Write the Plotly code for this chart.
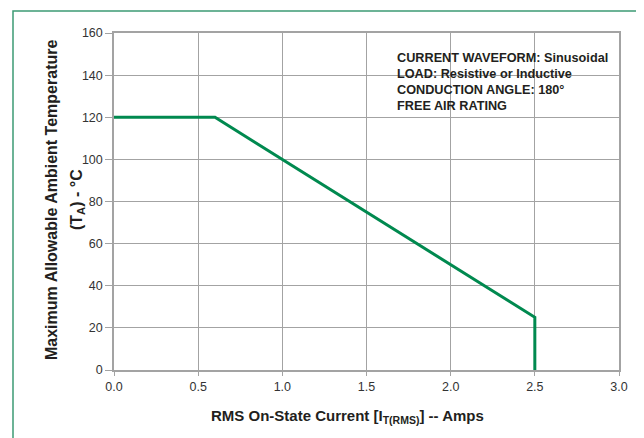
import plotly.graph_objects as go

# Data
current_amps = [0.0, 0.6, 2.5, 2.5]
ambient_temp_c = [120, 120, 25, 0]
x_ticks = [0.0, 0.5, 1.0, 1.5, 2.0, 2.5, 3.0]
y_ticks = [0, 20, 40, 60, 80, 100, 120, 140, 160]
note_lines = [
    "CURRENT WAVEFORM: Sinusoidal",
    "LOAD: Resistive or Inductive",
    "CONDUCTION ANGLE: 180°",
    "FREE AIR RATING",
]

W, H = 644, 438
L, R, T, B = 106, 33, 25, 76
PW, PH = W - L - R, H - T - B


def px(xp):
    return (xp - L) / PW


def py(yp):
    return (T + PH - yp) / PH


FONT = "Liberation Sans, Arial, Helvetica, sans-serif"
GREEN = "#00894f"
GRID = "#a3a3a3"
TXT = "#231f20"

fig = go.Figure()
fig.add_trace(go.Scatter(
    x=current_amps, y=ambient_temp_c, mode="lines",
    line=dict(color=GREEN, width=3), showlegend=False, hoverinfo="skip",
))

axis_common = dict(
    showgrid=True, gridcolor=GRID, gridwidth=1,
    showline=True, linecolor=GRID, linewidth=1.5, mirror=True,
    ticks="outside", tickcolor=GRID, tickwidth=1,
    zeroline=False, tickfont=dict(family=FONT, size=12.5, color="#333333"),
)
fig.update_xaxes(range=[0, 3], tickvals=x_ticks, ticktext=[f"{v:.1f}" for v in x_ticks],
                 ticklen=4, **axis_common)
fig.update_yaxes(range=[0, 160], tickvals=y_ticks, ticklen=7, **axis_common)

shapes = [
    # white box behind the note
    dict(type="rect", xref="paper", yref="paper", x0=px(382), x1=1.0, y0=py(108), y1=py(42),
         fillcolor="white", line=dict(width=0), layer="below"),
    # green outer frame
    dict(type="rect", xref="paper", yref="paper", x0=px(5), x1=px(642), y0=py(437), y1=py(3),
         line=dict(color="#3d9b74", width=1.5), fillcolor="rgba(0,0,0,0)"),
]

annotations = []
for i, line in enumerate(note_lines):
    annotations.append(dict(
        text=line, xref="paper", yref="paper", x=px(387), y=py(49.5 + 16.1 * i),
        xanchor="left", yanchor="middle", showarrow=False,
        font=dict(family=FONT, size=12.7, color=TXT, weight="bold"),
    ))

annotations.append(dict(
    text="Maximum Allowable Ambient Temperature", textangle=-90,
    xref="paper", yref="paper", x=px(43), y=py(192), xanchor="center", yanchor="middle",
    showarrow=False, font=dict(family=FONT, size=16, color=TXT, weight="bold"),
))
annotations.append(dict(
    text="(T<sub>A</sub>) - °C", textangle=-90,
    xref="paper", yref="paper", x=px(69), y=py(192), xanchor="center", yanchor="middle",
    showarrow=False, font=dict(family=FONT, size=16, color=TXT, weight="bold"),
))
annotations.append(dict(
    text="RMS On-State Current [I<sub>T(RMS)</sub>] -- Amps",
    xref="paper", yref="paper", x=px(339), y=py(408), xanchor="center", yanchor="middle",
    showarrow=False, font=dict(family=FONT, size=15, color=TXT, weight="bold"),
))

fig.update_layout(
    width=W, height=H, margin=dict(l=L, r=R, t=T, b=B),
    paper_bgcolor="white", plot_bgcolor="white",
    shapes=shapes, annotations=annotations,
)

fig.write_html("out.html")
